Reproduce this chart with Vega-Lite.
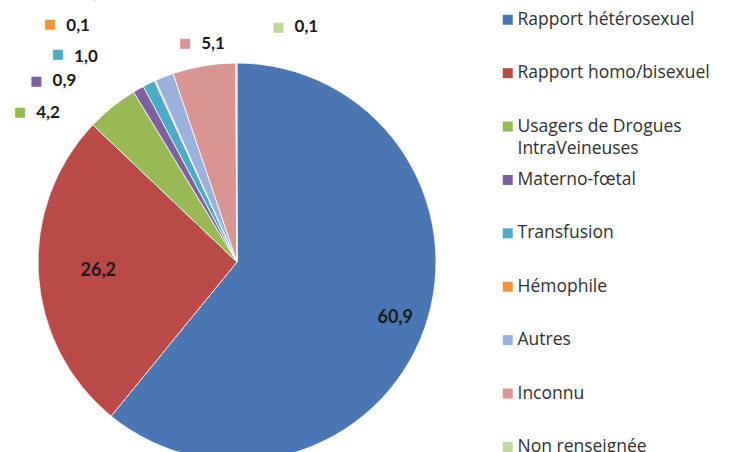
{
  "$schema": "https://vega.github.io/schema/vega-lite/v6.json",
  "autosize": {"type": "none"},
  "padding": {"left": 0, "top": 72, "right": 262, "bottom": 0},
  "width": 474,
  "height": 380,
  "background": "white",
  "config": {
    "view": {"stroke": null},
    "locale": {"number": {"decimal": ",", "thousands": " ", "grouping": [3], "currency": ["", " €"]}}
  },
  "data": {
    "values": [
      {"cat": "Rapport hétérosexuel", "value": 60.9, "order": 1},
      {"cat": "Rapport homo/bisexuel", "value": 26.2, "order": 2},
      {"cat": "Usagers de Drogues IntraVeineuses", "value": 4.2, "order": 3},
      {"cat": "Materno-fœtal", "value": 0.9, "order": 4},
      {"cat": "Transfusion", "value": 1.0, "order": 5},
      {"cat": "Hémophile", "value": 0.1, "order": 6},
      {"cat": "Autres", "value": 1.5, "order": 7},
      {"cat": "Inconnu", "value": 5.1, "order": 8},
      {"cat": "Non renseignée", "value": 0.1, "order": 9}
    ]
  },
  "encoding": {
    "theta": {"field": "value", "type": "quantitative", "stack": true},
    "order": {"field": "order", "type": "quantitative"},
    "color": {
      "field": "cat",
      "type": "nominal",
      "sort": ["Rapport hétérosexuel", "Rapport homo/bisexuel", "Usagers de Drogues IntraVeineuses", "Materno-fœtal", "Transfusion", "Hémophile", "Autres", "Inconnu", "Non renseignée"],
      "scale": {
        "domain": ["Rapport hétérosexuel", "Rapport homo/bisexuel", "Usagers de Drogues IntraVeineuses", "Materno-fœtal", "Transfusion", "Hémophile", "Autres", "Inconnu", "Non renseignée"],
        "range": ["#4A77B4", "#BA4A48", "#98B954", "#7D60A0", "#4AACC5", "#F59240", "#9BB2DD", "#D89593", "#C3D69B"]
      },
      "legend": {
        "orient": "none",
        "legendX": 499,
        "legendY": -61,
        "title": null,
        "padding": 0,
        "symbolType": "square",
        "symbolSize": 100,
        "symbolStrokeWidth": 0,
        "labelFont": "Open Sans",
        "labelFontSize": 17.5,
        "labelColor": "#303030",
        "labelOffset": 1,
        "labelLimit": 300,
        "rowPadding": 12.4,
        "gridAlign": "all",
        "labelExpr": "datum.label === 'Usagers de Drogues IntraVeineuses' ? ['Usagers de Drogues', 'IntraVeineuses'] : datum.label",
        "encode": {"labels": {"update": {"lineHeight": {"value": 22}}}}
      }
    }
  },
  "layer": [
    {"mark": {"type": "arc", "outerRadius": 199, "stroke": "#ffffff", "strokeWidth": 0.8}},
    {"mark": {"type": "text", "radius": 168, "font": "Lato", "fontSize": 18, "fontWeight": "bold"},
     "encoding": {"color": {"value": "#1a1a1a"}, "detail": {"field": "cat"},
       "text": {"condition": {"test": "datum.cat === 'Rapport hétérosexuel'", "field": "value", "type": "quantitative", "format": ".1f"}, "value": ""}}},
    {"mark": {"type": "text", "radius": 139, "font": "Lato", "fontSize": 18, "fontWeight": "bold"},
     "encoding": {"color": {"value": "#1a1a1a"}, "detail": {"field": "cat"},
       "text": {"condition": {"test": "datum.cat === 'Rapport homo/bisexuel'", "field": "value", "type": "quantitative", "format": ".1f"}, "value": ""}}},

    {"mark": {"type": "text", "radius": 199, "dx": -64, "dy": 6, "font": "Lato", "fontSize": 17, "fontWeight": "bold"},
     "encoding": {"color": {"value": "#1a1a1a"}, "detail": {"field": "cat"},
       "text": {"condition": {"test": "datum.cat === 'Usagers de Drogues IntraVeineuses'", "field": "value", "type": "quantitative", "format": ".1f"}, "value": ""}}},
    {"mark": {"type": "text", "radius": 199, "dx": -92, "dy": 5, "font": "DejaVu Sans", "fontSize": 13},
     "encoding": {"text": {"condition": {"test": "datum.cat === 'Usagers de Drogues IntraVeineuses'", "value": "■"}, "value": ""}}},

    {"mark": {"type": "text", "radius": 199, "dx": -74, "dy": -8, "font": "Lato", "fontSize": 17, "fontWeight": "bold"},
     "encoding": {"color": {"value": "#1a1a1a"}, "detail": {"field": "cat"},
       "text": {"condition": {"test": "datum.cat === 'Materno-fœtal'", "field": "value", "type": "quantitative", "format": ".1f"}, "value": ""}}},
    {"mark": {"type": "text", "radius": 199, "dx": -102, "dy": -8, "font": "DejaVu Sans", "fontSize": 13},
     "encoding": {"text": {"condition": {"test": "datum.cat === 'Materno-fœtal'", "value": "■"}, "value": ""}}},

    {"mark": {"type": "text", "radius": 199, "dx": -63, "dy": -27, "font": "Lato", "fontSize": 17, "fontWeight": "bold"},
     "encoding": {"color": {"value": "#1a1a1a"}, "detail": {"field": "cat"},
       "text": {"condition": {"test": "datum.cat === 'Transfusion'", "field": "value", "type": "quantitative", "format": ".1f"}, "value": ""}}},
    {"mark": {"type": "text", "radius": 199, "dx": -91, "dy": -30, "font": "DejaVu Sans", "fontSize": 13},
     "encoding": {"text": {"condition": {"test": "datum.cat === 'Transfusion'", "value": "■"}, "value": ""}}},

    {"mark": {"type": "text", "radius": 199, "dx": -77, "dy": -55, "font": "Lato", "fontSize": 17, "fontWeight": "bold"},
     "encoding": {"color": {"value": "#1a1a1a"}, "detail": {"field": "cat"},
       "text": {"condition": {"test": "datum.cat === 'Hémophile'", "field": "value", "type": "quantitative", "format": ".1f"}, "value": ""}}},
    {"mark": {"type": "text", "radius": 199, "dx": -105, "dy": -57, "font": "DejaVu Sans", "fontSize": 13},
     "encoding": {"text": {"condition": {"test": "datum.cat === 'Hémophile'", "value": "■"}, "value": ""}}},

    {"mark": {"type": "text", "radius": 199, "dx": -69, "dy": -84, "font": "Lato", "fontSize": 17, "fontWeight": "bold"},
     "encoding": {"color": {"value": "#1a1a1a"}, "detail": {"field": "cat"},
       "text": {"condition": {"test": "datum.cat === 'Autres'", "field": "value", "type": "quantitative", "format": ".1f"}, "value": ""}}},
    {"mark": {"type": "text", "radius": 199, "dx": -97, "dy": -85, "font": "DejaVu Sans", "fontSize": 13},
     "encoding": {"text": {"condition": {"test": "datum.cat === 'Autres'", "value": "■"}, "value": ""}}},

    {"mark": {"type": "text", "radius": 199, "dx": 9, "dy": -22, "font": "Lato", "fontSize": 17, "fontWeight": "bold"},
     "encoding": {"color": {"value": "#1a1a1a"}, "detail": {"field": "cat"},
       "text": {"condition": {"test": "datum.cat === 'Inconnu'", "field": "value", "type": "quantitative", "format": ".1f"}, "value": ""}}},
    {"mark": {"type": "text", "radius": 199, "dx": -19, "dy": -23, "font": "DejaVu Sans", "fontSize": 13},
     "encoding": {"text": {"condition": {"test": "datum.cat === 'Inconnu'", "value": "■"}, "value": ""}}},

    {"mark": {"type": "text", "radius": 199, "dx": 70, "dy": -36, "font": "Lato", "fontSize": 17, "fontWeight": "bold"},
     "encoding": {"color": {"value": "#1a1a1a"}, "detail": {"field": "cat"},
       "text": {"condition": {"test": "datum.cat === 'Non renseignée'", "field": "value", "type": "quantitative", "format": ".1f"}, "value": ""}}},
    {"mark": {"type": "text", "radius": 199, "dx": 42, "dy": -36, "font": "DejaVu Sans", "fontSize": 13},
     "encoding": {"text": {"condition": {"test": "datum.cat === 'Non renseignée'", "value": "■"}, "value": ""}}}
  ]
}
